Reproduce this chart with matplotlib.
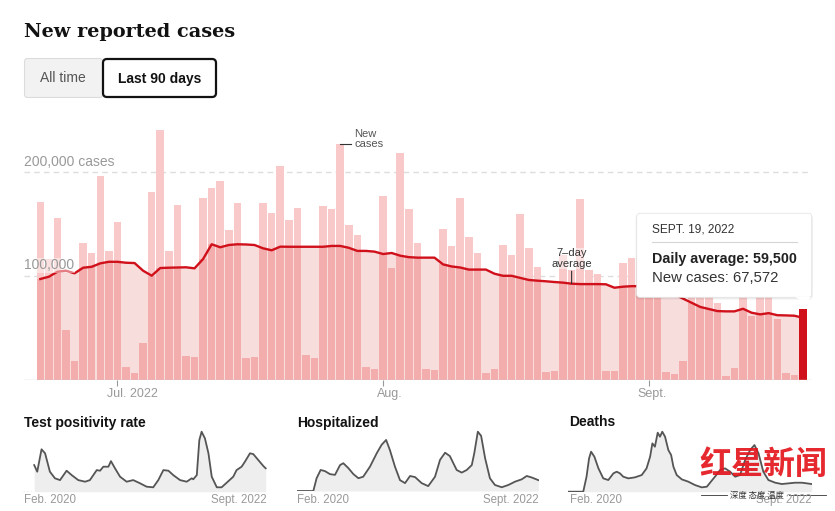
import numpy as np
import pandas as pd
import matplotlib
matplotlib.use('Agg')
import matplotlib.pyplot as plt
from matplotlib.patches import FancyBboxPatch, Polygon

plt.rcParams['font.family'] = ['Liberation Sans', 'DejaVu Sans']

# new reported cases, last 90 days (thousands)
days = pd.date_range('2022-06-22', '2022-09-19', freq='D')
cases = [171, 116, 155.6, 47.3, 18, 132, 122, 196, 124, 152,
         11.9, 6.4, 35.4, 181, 241, 124, 168, 23, 22, 175,
         184.5, 191.6, 144, 170, 20.6, 21.5, 170, 160.7, 206, 153.6,
         165.6, 23.5, 21, 167.4, 164, 227, 149, 139, 11.6, 10.3,
         177, 108, 218, 164.5, 131.7, 10.3, 9.3, 145, 128.5, 175,
         137, 121.7, 6.4, 10.3, 129.5, 120, 160, 126.5, 108.5, 7,
         8, 120, 106, 174, 106, 102, 8.3, 8.3, 112, 117,
         118, 105, 98, 6.8, 5, 18, 95, 120, 100, 74,
         3, 11, 95, 61, 90, 88, 58, 6, 4.5, 67.572]
avg7 = [96.9, 99.1, 103.9, 104.9, 102.4, 107.8, 108.7, 112, 113.5, 113.5,
        112.6, 112.3, 104.9, 100.1, 107.5, 107.8, 108, 108.2, 107.2, 116.2,
        130.4, 127.5, 129.7, 130.4, 130.2, 129.7, 126.5, 124.6, 128.1, 128,
        128, 128, 128, 128, 128.8, 128.8, 127, 124, 124, 123.3,
        121, 122, 119.4, 118, 117.5, 117.5, 117.5, 111, 109, 108,
        106, 106, 106, 102, 100, 100, 98, 96, 95.3, 94.7,
        94, 93.4, 92.4, 92, 92, 92, 91.8, 88.5, 89.5, 90,
        90, 89.5, 88, 86, 82, 78, 74, 70, 68, 66,
        65.7, 65.7, 68.2, 64.4, 62.8, 64, 62, 61.8, 61.5, 59.5]
month_ticks = ['2022-07-01', '2022-08-01', '2022-09-01']
month_labels = ['Jul. 2022', 'Aug.', 'Sept.']
new_cases_day = '2022-07-27'
avg_label_day = '2022-08-23'

# small multiples, days since Feb. 1, 2020
tpr_day = [43, 55, 72, 86, 105, 125, 145, 171, 191, 217, 244, 263, 290, 303, 316,
           336, 346, 362, 382, 408, 434, 461, 487, 513, 533, 553, 573, 592, 619, 645,
           665, 671, 685, 695, 704, 717, 731, 744, 764, 783, 803, 829, 842, 862, 875,
           895, 908, 928, 948, 957]
tpr_pct = [13.3, 10, 21.2, 19.2, 10, 6.7, 5.8, 10.5, 8.3, 5.8, 5, 5.8, 10.8, 10.5, 12.5,
           12.5, 15.3, 11.7, 7.5, 5, 5.8, 4.2, 2.5, 2.2, 5.8, 10.8, 10.5, 8.3, 5.8, 5,
           6.7, 6.2, 8.3, 25.8, 30, 26.7, 19.2, 7.5, 2.2, 2.2, 4.5, 7.5, 10.8, 12.5, 15,
           19.2, 18.8, 15.8, 12.8, 11.7]
hosp_day = [0, 66, 79, 95, 112, 132, 152, 172, 185, 205, 225, 245, 264, 291, 318,
            337, 355, 370, 390, 410, 430, 450, 470, 496, 522, 549, 569, 589, 608, 635,
            655, 675, 695, 705, 719, 732, 748, 767, 787, 814, 840, 867, 893, 913, 933, 959]
hosp_k = [0, 0, 34, 56, 53, 45, 43, 69, 74, 61, 45, 34, 38, 65, 101,
          123, 136, 109, 65, 29, 21, 40, 37, 21, 13, 38, 83, 102, 93, 56,
          49, 56, 69, 101, 158, 147, 87, 34, 16, 10, 16, 25, 31, 40, 36, 29]
death_day = [0, 59, 72, 82, 90, 103, 119, 138, 158, 178, 191, 204, 217, 237, 263,
             290, 309, 323, 332, 342, 353, 362, 371, 382, 395, 406, 415, 428, 448, 474,
             500, 527, 547, 579, 599, 619, 639, 659, 678, 698, 718, 735, 751, 770, 790,
             817, 843, 869, 896, 922, 942, 961]
death_n = [0, 0, 855, 1900, 2280, 1995, 1330, 760, 665, 1045, 1140, 1045, 855, 760, 817,
           950, 1330, 1995, 2755, 2565, 3363, 3135, 3420, 3135, 2375, 2090, 1425, 950, 703, 570,
           380, 247, 285, 855, 1235, 1330, 1140, 855, 950, 1805, 2375, 2660, 2185, 1140, 665,
           513, 437, 475, 513, 513, 475, 437]

LIGHT = '#f9c8c8'
DARK = '#f2adac'
FILL = '#f8dddd'
RED = '#d0111b'
GRAY = '#999999'

W, H = 835, 511


def box(l, t, r, b):
    return [l / W, 1 - b / H, (r - l) / W, (b - t) / H]


fig = plt.figure(figsize=(W / 100, H / 100), dpi=100)
fig.patch.set_facecolor('white')

# main chart
ax = fig.add_axes(box(24, 120, 812, 379.5))
x = np.arange(len(cases))
c = np.array(cases) * 1000
a = np.array(avg7) * 1000
ax.fill_between(x, a, color=FILL, lw=0, zorder=1)
ax.bar(x, c, width=0.88, color=LIGHT, zorder=2)
ax.bar(x, np.minimum(c, a), width=0.88, color=DARK, zorder=3)
ax.bar(x[-1], c[-1], width=0.88, color=RED, zorder=4)
ax.plot(x, a, color=RED, lw=1.7, zorder=5, solid_joinstyle='round')
ax.set_xlim(-1.9, 90.05)
ax.set_ylim(0, 259.5 / 103.7 * 1e5)
for s in ax.spines.values():
    s.set_visible(False)
ax.set_yticks([])
for g in [1e5, 2e5]:
    ax.axhline(g, color='#dddddd', lw=1, ls=(0, (4, 3)), zorder=0.5)
ax.axhline(0, color='#cccccc', lw=1, zorder=6)

tick_pos = [days.get_loc(pd.Timestamp(d)) for d in month_ticks]
ax.set_xticks(tick_pos)
ax.tick_params(axis='x', length=4, width=0.8, color=GRAY, labelbottom=False)
for p, lab, dx in zip(tick_pos, month_labels, [-10, -6, -11]):
    ax.annotate(lab, xy=(p, 0), xytext=(dx * 0.72, -14.5 * 0.72),
                textcoords='offset points', ha='left', va='center',
                fontsize=9, color=GRAY)

ax.annotate('200,000 cases', xy=(0, 2e5), xycoords=('axes fraction', 'data'),
            xytext=(0, 2.5), textcoords='offset points', va='bottom',
            fontsize=10, color=GRAY)
ax.annotate('100,000', xy=(0, 1e5), xycoords=('axes fraction', 'data'),
            xytext=(0, 2.5), textcoords='offset points', va='bottom',
            fontsize=10, color=GRAY, zorder=7,
            bbox=dict(facecolor='white', alpha=0.45, edgecolor='none', pad=0.5))

# annotations
n = days.get_loc(pd.Timestamp(new_cases_day))
ax.plot([n, n + 1.2], [c[n], c[n]], color='#333333', lw=0.8, zorder=7)
ax.annotate('New\ncases', xy=(n, c[n]), xytext=(14 * 0.72, 5 * 0.72),
            textcoords='offset points', ha='left', va='center',
            fontsize=8, color='#555555', linespacing=1.05)
k = days.get_loc(pd.Timestamp(avg_label_day))
ax.annotate('', xy=(k, a[k]), xytext=(0, 12.5 * 0.72), textcoords='offset points',
            arrowprops=dict(arrowstyle='-', color='#333333', lw=0.8,
                            shrinkA=0, shrinkB=0), zorder=7)
ax.annotate('7\u2013day\naverage', xy=(k, a[k]), xytext=(0, 25 * 0.72),
            textcoords='offset points', ha='center', va='center',
            fontsize=8, color='#333333', linespacing=1.05, zorder=7,
            bbox=dict(facecolor='white', alpha=0.5, edgecolor='none', pad=0.3))


# small multiples
def small(l, r, t, b, dx, vals, ymax):
    s = fig.add_axes(box(l, t, r, b))
    s.fill_between(dx, vals, color='#eeeeee', lw=0)
    s.plot(dx, vals, color='#555555', lw=1.3)
    s.set_xlim(0, 961)
    s.set_ylim(0, ymax)
    s.axis('off')
    return s


s1 = small(23.3, 266.7, 430, 491.7, tpr_day, tpr_pct, 30.85)
s1.plot([0, tpr_day[0]], [0, 0], color='#aaaaaa', lw=1, ls=':')
s2 = small(296.7, 538.8, 430, 491, hosp_day, hosp_k, 162.5)
s3 = small(568.3, 811.7, 430, 491.7, death_day, death_n, 3517)

# overlay for page elements
ov = fig.add_axes([0, 0, 1, 1])
ov.set_xlim(0, W)
ov.set_ylim(H, 0)
ov.axis('off')
ov.patch.set_alpha(0)
ov.set_zorder(10)

ov.text(24, 37.3, 'New reported cases', family='DejaVu Serif', weight='bold',
        fontsize=13.9, va='baseline', color='#121212')

ov.add_patch(FancyBboxPatch((24.5, 58.5), 78, 39, boxstyle='round,pad=0,rounding_size=3',
                            fc='#f2f2f2', ec='#dcdcdc', lw=0.8))
ov.add_patch(FancyBboxPatch((103, 59), 113, 38, boxstyle='round,pad=0,rounding_size=4',
                            fc='white', ec='#121212', lw=1.6))
ov.text(63.3, 78.5, 'All time', ha='center', va='center', fontsize=10, color='#555555')
ov.text(159.5, 78.5, 'Last 90 days', ha='center', va='center', fontsize=10,
        weight='bold', color='#121212')

# tooltip
for off, al in [(2.5, 0.04), (1.2, 0.07)]:
    ov.add_patch(FancyBboxPatch((636.7 - off / 2, 213.3 + off / 2), 175 + off, 84 + off / 2,
                                boxstyle='round,pad=0,rounding_size=4',
                                fc='black', ec='none', alpha=al))
ov.add_patch(FancyBboxPatch((636.7, 213.3), 175, 84, boxstyle='round,pad=0,rounding_size=3',
                            fc='white', ec='#e6e6e6', lw=0.6))
ov.add_patch(Polygon([(795, 296.8), (811.2, 296.8), (805, 303)], closed=True,
                     fc='white', ec='none'))
ov.text(651.7, 229.5, 'SEPT. 19, 2022', fontsize=8.6, color='#333333', va='center')
ov.plot([651.7, 796.7], [242.3, 242.3], color='#d5d5d5', lw=0.8)
ov.text(651.7, 258.5, 'Daily average: 59,500', fontsize=10.3, weight='bold',
        color='#222222', va='center')
ov.text(651.7, 278, 'New cases: 67,572', fontsize=10.7, color='#333333', va='center')

# small multiple titles and labels
for lx, rx, title in [(23.5, 266.7, 'Test positivity rate'),
                      (296.7, 538.8, 'Hospitalized'),
                      (569.5, 811.7, 'Deaths')]:
    ov.text(lx, 422.5, title, fontsize=10, weight='bold', color='#121212', va='center')
    ov.text(lx, 500, 'Feb. 2020', fontsize=8.3, color=GRAY, va='center')
    ov.text(rx, 500, 'Sept. 2022', fontsize=8.3, color=GRAY, va='center', ha='right')

# watermark
ov.text(763, 465, '红星新闻', family=['Noto Sans CJK SC'], weight='bold', fontsize=23,
        color='#e3161d', ha='center', va='center', alpha=0.92)
ov.text(757, 495, '深度 态度 温度', family=['Noto Sans CJK SC'], fontsize=6,
        color='#333333', ha='center', va='center')
ov.plot([701, 727], [495, 495], color='#333333', lw=0.6)
ov.plot([789, 826], [495, 495], color='#333333', lw=0.6)

fig.savefig('out.png', dpi=100, facecolor='white')
